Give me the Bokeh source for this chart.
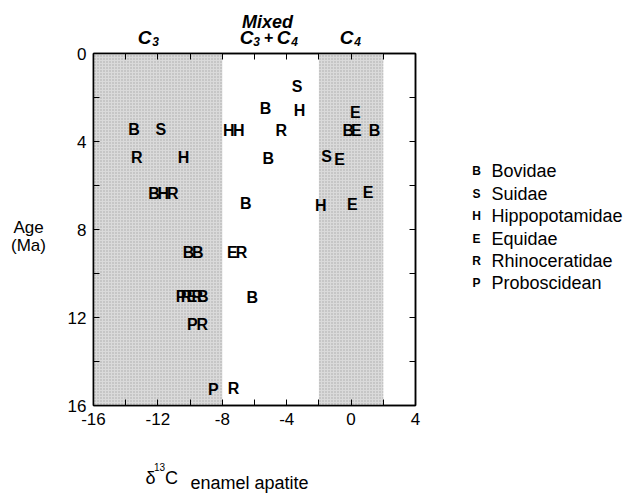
from bokeh.plotting import figure
from bokeh.models import ColumnDataSource, LinearAxis, FixedTicker, Range1d, GridBox, Column
from bokeh.core.properties import value
from bokeh.embed import file_html
from bokeh.resources import INLINE

# ---- data ----
taxon = ["S", "B", "H", "E",
         "B", "S", "H", "H", "R", "B", "E", "B",
         "R", "H", "B", "S", "E",
         "B", "H", "R", "E",
         "B", "H", "E",
         "B", "B", "E", "R",
         "P", "R", "E", "R", "B", "B",
         "P", "R",
         "P", "R"]
d13c = [-3.35, -5.31, -3.20, 0.27,
        -13.48, -11.82, -7.59, -6.97, -4.33, -0.18, 0.33, 1.45,
        -13.31, -10.41, -5.14, -1.53, -0.72,
        -12.24, -11.66, -11.07, 1.06,
        -6.54, -1.88, 0.07,
        -10.09, -9.53, -7.37, -6.81,
        -10.56, -10.22, -9.89, -9.56, -9.22, -6.14,
        -9.86, -9.24,
        -8.55, -7.31]
age_ma = [1.5, 2.5, 2.6, 2.7,
          3.47, 3.47, 3.5, 3.5, 3.5, 3.5, 3.5, 3.5,
          4.73, 4.73, 4.79, 4.67, 4.83,
          6.35, 6.35, 6.35, 6.3,
          6.8, 6.9, 6.86,
          9.06, 9.06, 9.06, 9.06,
          11.03, 11.03, 11.03, 11.03, 11.03, 11.08,
          12.32, 12.32,
          15.29, 15.24]

legend_codes = ["B", "S", "H", "E", "R", "P"]
legend_names = ["Bovidae", "Suidae", "Hippopotamidae", "Equidae", "Rhinoceratidae", "Proboscidean"]

band_left = [-16, -2]
band_right = [-8, 2]

x_ticks = [-16, -12, -8, -4, 0, 4]
x_minor = [-14, -10, -6, -2, 2]
y_ticks = [0, 4, 8, 12, 16]
y_minor = [2, 6, 10, 14]

FONT = "Liberation Sans"
W, H = 632, 493

p = figure(output_backend="svg", toolbar_location=None,
           x_range=Range1d(-16, 4), y_range=Range1d(16, 0),
           frame_width=322, frame_height=352,
           min_border_left=93, min_border_right=W - 93 - 322,
           min_border_top=53, min_border_bottom=H - 53 - 352,
           x_axis_location="below", y_axis_location="left")
p.grid.visible = False
p.background_fill_color = "white"
p.border_fill_color = "white"
p.outline_line_color = "black"
p.outline_line_width = 1.5

p.quad(left=band_left, right=band_right, top=[0, 0], bottom=[16, 16],
       fill_color="#dadada", line_color=None,
       hatch_pattern="dot", hatch_color="#a8a8a8", hatch_scale=3, hatch_weight=0.5)

src = ColumnDataSource(dict(x=d13c, y=age_ma, t=taxon))
p.text(x="x", y="y", text="t", source=src, text_align="center", text_baseline="middle",
       text_font=value(FONT), text_font_style="bold", text_font_size="16px", text_color="black")


def style_axis(ax, labels=True):
    ax.axis_line_color = "black"
    ax.axis_line_width = 1.5
    ax.major_tick_in = 6
    ax.major_tick_out = 0
    ax.minor_tick_in = 6
    ax.minor_tick_out = 0
    ax.major_tick_line_color = "black"
    ax.minor_tick_line_color = "black"
    ax.major_tick_line_width = 1
    ax.minor_tick_line_width = 1
    ax.major_label_text_font = FONT
    ax.major_label_text_font_size = "17px"
    ax.major_label_text_color = "black" if labels else None
    ax.major_label_standoff = 7


p.xaxis.ticker = FixedTicker(ticks=x_ticks, minor_ticks=x_minor)
p.yaxis.ticker = FixedTicker(ticks=y_ticks, minor_ticks=y_minor)
style_axis(p.xaxis[0])
style_axis(p.yaxis[0])
p.xaxis[0].major_label_overrides = {v: str(v) for v in x_ticks}
p.yaxis[0].major_label_overrides = {v: str(v) for v in y_ticks}

top_ax = LinearAxis(ticker=FixedTicker(ticks=x_ticks, minor_ticks=x_minor))
style_axis(top_ax, labels=False)
top_ax.major_label_text_font_size = "1px"
p.add_layout(top_ax, "above")
right_ax = LinearAxis(ticker=FixedTicker(ticks=y_ticks, minor_ticks=y_minor))
style_axis(right_ax, labels=False)
right_ax.major_label_text_font_size = "1px"
p.add_layout(right_ax, "right")

# ---- transparent overlay for the texts outside the plot frame (pixel space) ----
t = figure(output_backend="svg", toolbar_location=None, width=W, height=H,
           x_range=Range1d(0, W), y_range=Range1d(H, 0),
           x_axis_type=None, y_axis_type=None, min_border=0)
t.grid.visible = False
t.outline_line_color = None
t.background_fill_alpha = 0
t.border_fill_alpha = 0


def lab(text, px, py, size, style="normal", align="left", baseline="alphabetic"):
    t.text(x=[px], y=[py], text=[text], text_font=value(FONT), text_font_size=size,
           text_font_style=style, text_align=align, text_baseline=baseline, text_color="black")


# header labels
lab("C", 144, 37, "19px", "bold italic", "center")
lab("3", 155, 41, "12px", "bold italic", "center")
lab("Mixed", 267, 21, "18px", "bold italic", "center")
lab("C", 246, 37, "19px", "bold italic", "center")
lab("3", 256, 41, "12px", "bold italic", "center")
lab("+", 268, 36, "16px", "bold italic", "center")
lab("C", 283, 37, "19px", "bold italic", "center")
lab("4", 294, 41, "12px", "bold italic", "center")
lab("C", 346, 37, "19px", "bold italic", "center")
lab("4", 357, 41, "12px", "bold italic", "center")

# y axis title
lab("Age", 28, 227, "17px", "normal", "center", "middle")
lab("(Ma)", 28, 245, "17px", "normal", "center", "middle")

# x axis title
lab("\u03b4", 150, 477, "18px", "normal", "center")
lab("13", 159, 466, "10px", "normal", "center")
lab("C", 171, 477, "18px", "normal", "center")
lab("enamel apatite", 190, 482, "18px", "normal", "left")

# legend
leg_y = [170.7, 193.3, 215.7, 238.3, 260.0, 282.7]
for code, name, yy in zip(legend_codes, legend_names, leg_y):
    lab(code, 476, yy, "12px", "bold", "center", "middle")
    lab(name, 491, yy, "18px", "normal", "left", "middle")

grid = GridBox(children=[(Column(children=[p]), 0, 0), (Column(children=[t]), 0, 0)])

open("out.html", "w").write(file_html(grid, INLINE))
